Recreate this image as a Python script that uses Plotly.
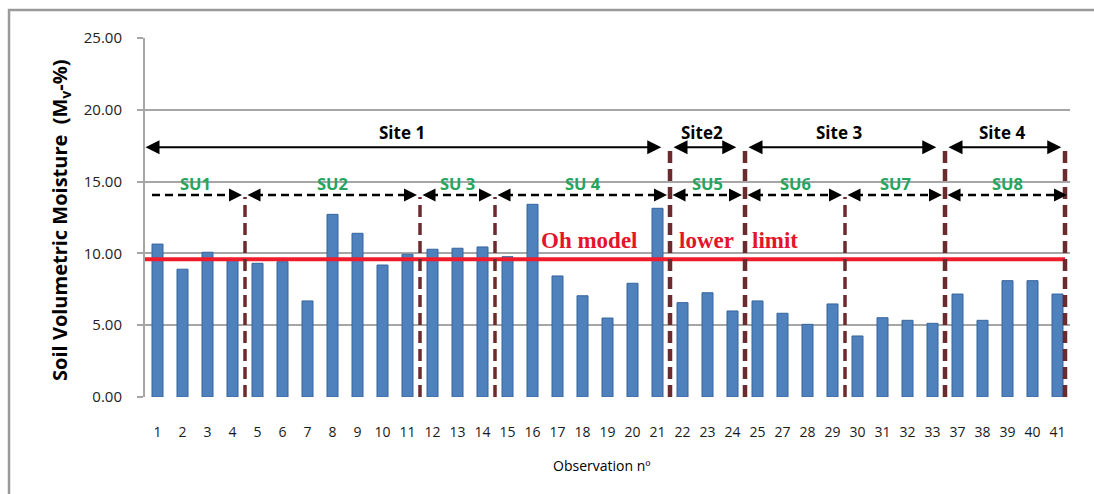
import plotly.graph_objects as go

# ---- data ----
obs_labels = ["1", "2", "3", "4", "5", "6", "7", "8", "9", "10", "11", "12", "13",
              "14", "15", "16", "17", "18", "19", "20", "21", "22", "23", "24", "25",
              "27", "28", "29", "30", "31", "32", "33", "37", "38", "39", "40", "41"]
moisture = [10.65, 8.90, 10.08, 9.54, 9.31, 9.42, 6.69, 12.72, 11.40, 9.19, 9.94, 10.29, 10.36,
            10.45, 9.77, 13.42, 8.43, 7.05, 5.50, 7.92, 13.14, 6.57, 7.26, 5.99, 6.69,
            5.83, 5.06, 6.48, 4.25, 5.52, 5.34, 5.13, 7.17, 5.34, 8.10, 8.10, 7.17]
oh_limit = 9.6

site_names = ["Site 1", "Site2", "Site 3", "Site 4"]
site_bounds = [-0.5, 20.5, 23.5, 31.5, 36.5]      # boundaries between observations (index units)
su_names = ["SU1", "SU2", "SU 3", "SU 4", "SU5", "SU6", "SU7", "SU8"]
su_bounds = [-0.5, 3.5, 10.5, 13.5, 20.5, 23.5, 27.5, 31.5, 36.5]

y_ticks = [0, 5, 10, 15, 20, 25]

# ---- figure ----
xs = list(range(len(obs_labels)))
fig = go.Figure()
fig.add_trace(go.Bar(
    x=xs, y=moisture, width=0.44,
    marker=dict(color="#4F81BD", line=dict(color="#36659E", width=1)),
    hoverinfo="y",
))

SITE_Y = 17.4
SITE_LABEL_Y = 18.45
SU_Y = 14.07
SU_LABEL_Y = 14.9
MAROON = "#6B2B2E"

shapes = []
annotations = []

# red limit line
shapes.append(dict(type="line", xref="x", yref="y", x0=-0.55, x1=36.3, y0=oh_limit, y1=oh_limit,
                   line=dict(color="#F01C2C", width=4), layer="above"))

# vertical boundary lines
for b in site_bounds[1:]:
    xb = b if b < 36 else 36.3
    shapes.append(dict(type="line", xref="x", yref="y", x0=xb, x1=xb, y0=0, y1=SITE_Y + 0.05,
                       line=dict(color=MAROON, width=4.5, dash="12px,6px"), layer="above"))
for b in su_bounds[1:-1]:
    if b in site_bounds:
        continue
    shapes.append(dict(type="line", xref="x", yref="y", x0=b, x1=b, y0=0, y1=SU_Y - 0.15,
                       line=dict(color=MAROON, width=3.5, dash="12px,6px"), layer="above"))

# site arrows (solid, double-headed)
for i, name in enumerate(site_names):
    a, b = site_bounds[i] + 0.08, site_bounds[i + 1] - 0.35
    if i == 0:
        a = site_bounds[i] - 0.04
    annotations.append(dict(x=b, y=SITE_Y, ax=a, ay=SITE_Y, xref="x", yref="y", axref="x", ayref="y",
                            showarrow=True, arrowhead=2, arrowside="end+start", arrowsize=1.4,
                            arrowwidth=2, arrowcolor="black", text=""))
    annotations.append(dict(x=(site_bounds[i] + site_bounds[i + 1]) / 2, y=SITE_LABEL_Y, xref="x", yref="y",
                            text="<b>" + name + "</b>", showarrow=False, xshift=-6,
                            font=dict(family="Open Sans", size=17, color="black")))

# SU arrows (dashed, double-headed)
for i, name in enumerate(su_names):
    a, b = su_bounds[i] + 0.1, su_bounds[i + 1] - 0.12
    if i == 0:
        a = su_bounds[i] - 0.02
    shapes.append(dict(type="line", xref="x", yref="y", x0=a + 0.3, x1=b - 0.3, y0=SU_Y, y1=SU_Y,
                       line=dict(color="black", width=2.5, dash="8px,5px"), layer="above"))
    annotations.append(dict(x=b, y=SU_Y, ax=-10, ay=0, xref="x", yref="y",
                            showarrow=True, arrowhead=2, arrowsize=1.3, arrowwidth=2,
                            arrowcolor="black", text=""))
    annotations.append(dict(x=a, y=SU_Y, ax=10, ay=0, xref="x", yref="y",
                            showarrow=True, arrowhead=2, arrowsize=1.3, arrowwidth=2,
                            arrowcolor="black", text=""))
    annotations.append(dict(x=(su_bounds[i] + su_bounds[i + 1]) / 2, y=SU_LABEL_Y, xref="x", yref="y",
                            text="<b>" + name + "</b>", showarrow=False,
                            font=dict(family="Open Sans", size=16.5, color="#25A55E")))

# "Oh model lower limit" text
red_font = dict(family="Liberation Serif", size=23, color="#E3152B")
annotations.append(dict(x=17.26, y=10.9, xref="x", yref="y", text="<b>Oh model</b>", showarrow=False, font=red_font))
annotations.append(dict(x=21.95, y=10.9, xref="x", yref="y", text="<b>lower</b>", showarrow=False, font=red_font))
annotations.append(dict(x=24.7, y=10.9, xref="x", yref="y", text="<b>limit</b>", showarrow=False, font=red_font))

# axis titles
annotations.append(dict(xref="paper", yref="paper", x=-0.092, y=0.493, textangle=-90,
                        xanchor="center", yanchor="middle",
                        text="<b>Soil Volumetric Moisture&nbsp;&nbsp;(M<sub>v</sub>-%)</b>",
                        showarrow=False, font=dict(family="Open Sans", size=20, color="black")))
annotations.append(dict(xref="paper", yref="paper", x=0.493, y=-0.192, xanchor="center", yanchor="middle",
                        text="Observation nº", showarrow=False,
                        font=dict(family="Open Sans", size=14, color="black")))

# outer frame
shapes.append(dict(type="rect", xref="paper", yref="paper", x0=-0.147, x1=1.06, y0=-0.35, y1=1.078,
                   line=dict(color="#9A9A9A", width=2.5), layer="below"))

fig.update_layout(
    width=1094, height=494,
    margin=dict(l=145, r=24, t=38, b=97),
    paper_bgcolor="white", plot_bgcolor="white",
    showlegend=False, bargap=0.5,
    shapes=shapes, annotations=annotations,
    xaxis=dict(range=[-0.5, 36.5], tickmode="array", tickvals=xs, ticktext=obs_labels,
               showgrid=False, zeroline=False, showline=False, ticks="",
               ticklabelstandoff=25,
               tickfont=dict(family="Open Sans", size=14, color="#1A1A1A")),
    yaxis=dict(range=[0, 25], tickmode="array", tickvals=y_ticks, tickformat=".2f",
               showgrid=True, gridcolor="#A6A6A6", gridwidth=2, zeroline=False,
               showline=True, linecolor="#A6A6A6", linewidth=2,
               ticks="outside", ticklen=6, tickcolor="#A6A6A6", tickwidth=2,
               ticklabelstandoff=12,
               tickfont=dict(family="Open Sans", size=15, color="#222222")),
)

fig.write_html("out.html", config={"displayModeBar": False},
               post_script="document.body.style.margin='0px';")
